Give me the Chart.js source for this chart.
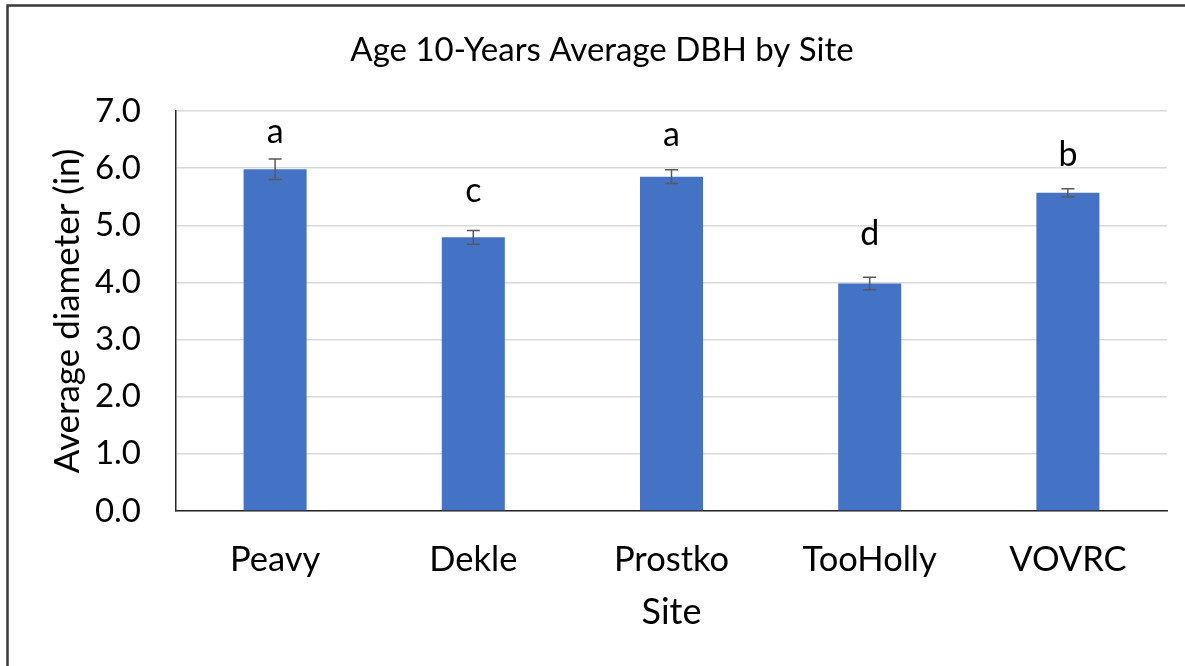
<!DOCTYPE html>
<html>
<head>
<meta charset="utf-8">
<script src="https://cdn.jsdelivr.net/npm/chart.js@4/dist/chart.umd.min.js"></script>
<style>
html,body{margin:0;padding:0;background:#fff;}
#wrap{width:1185px;height:666px;position:relative;}
</style>
</head>
<body>
<div id="wrap"><canvas id="c" width="1185" height="666"></canvas></div>
<script>
const sites = ["Peavy", "Dekle", "Prostko", "TooHolly", "VOVRC"];
const avgDiameter = [5.98, 4.79, 5.85, 3.98, 5.57];
const stdError = [0.18, 0.12, 0.12, 0.11, 0.07];
const groupLetters = ["a", "c", "a", "d", "b"];
const letterAnchor = [6.44, 5.41, 6.39, 4.66, 6.04];
const yTicks = [0, 1, 2, 3, 4, 5, 6, 7];

const FONT = "Lato, 'Open Sans', sans-serif";

const bgPlugin = {
  id: 'bg',
  beforeDraw(chart) {
    const ctx = chart.ctx;
    ctx.save();
    ctx.fillStyle = '#ffffff';
    ctx.fillRect(0, 0, chart.width, chart.height);
    ctx.strokeStyle = '#3a3a3a';
    ctx.lineWidth = 2.5;
    ctx.strokeRect(7.5, 5.5, 1300, 800);
    ctx.restore();
  }
};

const errPlugin = {
  id: 'errbars',
  afterDatasetsDraw(chart) {
    const ctx = chart.ctx;
    const meta = chart.getDatasetMeta(0);
    const ys = chart.scales.y;
    ctx.save();
    ctx.strokeStyle = '#595959';
    ctx.lineWidth = 1.5;
    meta.data.forEach((bar, i) => {
      const x = bar.x;
      const yTop = ys.getPixelForValue(avgDiameter[i] + stdError[i]);
      const yBot = ys.getPixelForValue(avgDiameter[i] - stdError[i]);
      ctx.beginPath();
      ctx.moveTo(x, yTop); ctx.lineTo(x, yBot);
      ctx.moveTo(x - 6.5, yTop); ctx.lineTo(x + 6.5, yTop);
      ctx.moveTo(x - 6.5, yBot); ctx.lineTo(x + 6.5, yBot);
      ctx.stroke();
    });
    ctx.fillStyle = '#000000';
    ctx.font = "34px " + FONT;
    ctx.textAlign = 'center';
    ctx.textBaseline = 'alphabetic';
    meta.data.forEach((bar, i) => {
      ctx.fillText(groupLetters[i], bar.x, ys.getPixelForValue(letterAnchor[i]));
    });
    ctx.restore();
  }
};

new Chart(document.getElementById('c'), {
  type: 'bar',
  data: {
    labels: sites,
    datasets: [{
      data: avgDiameter,
      backgroundColor: '#4472C4',
      borderWidth: 0,
      barPercentage: 0.318,
      categoryPercentage: 1.0
    }]
  },
  options: {
    responsive: false,
    animation: false,
    devicePixelRatio: 1,
    layout: { padding: { left: 37, right: 18, top: 0, bottom: 0 } },
    plugins: {
      legend: { display: false },
      tooltip: { enabled: false },
      title: {
        display: true,
        text: 'Age 10-Years Average DBH by Site',
        color: '#000000',
        font: { family: FONT, size: 33, weight: 'normal' },
        padding: { top: 30.2, bottom: 41.2 }
      }
    },
    scales: {
      x: {
        grid: { display: false, drawTicks: false },
        border: { display: true, color: '#262626', width: 1.5 },
        ticks: { color: '#000000', font: { family: FONT, size: 34.5 }, padding: 28.3, maxRotation: 0 },
        title: {
          display: true, text: 'Site', color: '#000000',
          font: { family: FONT, size: 36 }, padding: { top: 0, bottom: 32.4 }
        },
        afterFit(scale) { scale.height = 666 - 511; }
      },
      y: {
        min: 0, max: 7,
        afterBuildTicks(scale) { scale.ticks = yTicks.map(v => ({ value: v })); },
        grid: { color: '#d9d9d9', lineWidth: 1.5, drawTicks: false },
        border: { display: true, color: '#262626', width: 1.5 },
        ticks: {
          color: '#000000', font: { family: FONT, size: 33 }, padding: 35,
          callback: v => Number(v).toFixed(1)
        },
        title: {
          display: true, text: 'Average diameter (in)', color: '#000000',
          font: { family: FONT, size: 35 }, padding: { top: 10, bottom: 0 }
        },
        afterFit(scale) { scale.width = 176 - 37; }
      }
    }
  },
  plugins: [bgPlugin, errPlugin]
});
</script>
</body>
</html>
